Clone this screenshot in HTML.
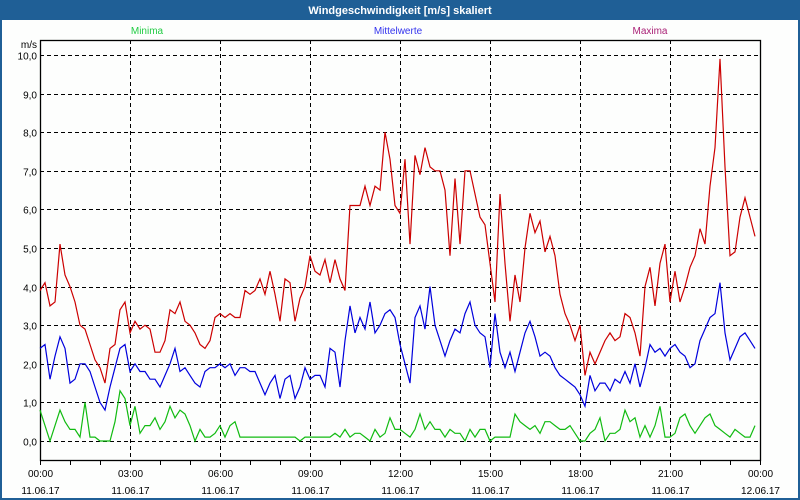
<!DOCTYPE html>
<html><head><meta charset="utf-8"><style>
html,body{margin:0;padding:0;background:#fff;}
svg{display:block;font-family:"Liberation Sans",sans-serif;}
</style></head><body>
<svg width="800" height="500" viewBox="0 0 800 500" xmlns="http://www.w3.org/2000/svg">
<rect x="0" y="0" width="800" height="500" fill="#1f5f96"/>
<rect x="2" y="20" width="796" height="478" fill="#fdfefd"/>
<text x="400" y="14" font-size="11" font-weight="bold" fill="#fff" text-anchor="middle">Windgeschwindigkeit [m/s] skaliert</text>
<text x="147" y="34" font-size="10" fill="#22cc44" text-anchor="middle">Minima</text>
<text x="398" y="34" font-size="10" fill="#3333ee" text-anchor="middle">Mittelwerte</text>
<text x="650" y="34" font-size="10" fill="#aa2277" text-anchor="middle">Maxima</text>
<text x="37" y="48" font-size="10" fill="#000" text-anchor="end">m/s</text>
<g id="grid" stroke="#000" stroke-width="1" stroke-dasharray="4,3" fill="none"></g>
<g id="labels" font-size="10" fill="#000"></g>
<rect x="40.5" y="40.5" width="720" height="420" fill="none" stroke="#000" stroke-width="1.3"/>
<g id="series" fill="none" stroke-width="1.2"></g>
</svg>
<script>
const ns="http://www.w3.org/2000/svg";
const g=document.getElementById('grid'),L=document.getElementById('labels'),S=document.getElementById('series');
function el(p,t,a,txt){const e=document.createElementNS(ns,t);for(const k in a)e.setAttribute(k,a[k]);if(txt)e.textContent=txt;p.appendChild(e);return e;}
const Y=v=>441-v*38.6;
for(let k=0;k<=10;k++){const y=Math.round(Y(k))+0.5;el(g,'line',{x1:40,x2:760,y1:y,y2:y});
el(L,'text',{x:37,y:y+4,'text-anchor':'end'},k+',0');}
const times=['00:00','03:00','06:00','09:00','12:00','15:00','18:00','21:00','00:00'];
for(let i=0;i<=8;i++){const x=40+90*i+0.5;if(i>0&&i<8)el(g,'line',{x1:x,x2:x,y1:40,y2:460});
el(L,'text',{x:x,y:477,'text-anchor':'middle'},times[i]);el(L,'text',{x:x,y:494,'text-anchor':'middle'},i==8?'12.06.17':'11.06.17');}
for(let h=0;h<=24;h++){const x=40+30*h+0.5;el(L,'line',{x1:x,x2:x,y1:460,y2:465,stroke:'#000'});}
const red=[3.9,4.1,3.5,3.6,5.1,4.3,4.0,3.6,3.0,2.9,2.5,2.1,1.9,1.5,2.4,2.5,3.4,3.6,2.8,3.1,2.9,3.0,2.9,2.3,2.3,2.6,3.4,3.3,3.6,3.1,3.0,2.8,2.5,2.4,2.6,3.2,3.3,3.2,3.3,3.2,3.2,3.9,3.8,3.9,4.2,3.8,4.4,3.8,3.1,4.2,4.1,3.1,3.7,4.0,4.8,4.4,4.3,4.7,4.1,4.7,4.2,3.9,6.1,6.1,6.1,6.6,6.1,6.6,6.5,8.0,7.3,6.1,5.9,7.3,5.1,7.4,6.9,7.6,7.1,7.0,7.0,6.5,4.8,6.8,5.1,7.0,7.0,6.4,5.8,5.6,4.6,3.6,6.4,4.6,3.1,4.3,3.6,5.0,5.9,5.4,5.7,4.9,5.3,4.8,3.8,3.3,3.0,2.6,3.0,1.7,2.3,2.0,2.3,2.6,2.8,2.6,2.7,3.3,3.2,2.8,2.2,4.0,4.5,3.5,4.6,5.1,3.6,4.4,3.6,4.0,4.5,4.8,5.5,5.1,6.6,7.6,9.9,7.1,4.8,4.9,5.8,6.3,5.8,5.3];
const blue=[2.4,2.5,1.6,2.2,2.7,2.4,1.5,1.6,2.0,2.0,1.8,1.4,1.0,0.8,1.4,1.9,2.4,2.5,1.8,2.0,1.8,1.8,1.6,1.6,1.4,1.7,2.0,2.4,1.8,1.9,1.7,1.5,1.4,1.8,1.9,1.9,2.0,1.9,2.0,1.7,1.9,1.9,1.8,1.8,1.5,1.2,1.5,1.7,1.1,1.6,1.7,1.1,1.4,1.9,1.6,1.7,1.7,1.4,2.4,2.3,1.4,2.6,3.5,2.8,3.2,2.9,3.6,2.8,3.0,3.3,3.4,3.2,2.5,2.0,1.5,3.2,3.5,2.9,4.0,3.0,2.6,2.2,2.6,2.9,2.8,3.3,3.6,3.0,2.8,2.7,1.9,3.3,2.3,1.9,2.3,1.8,2.3,2.8,3.1,2.7,2.2,2.3,2.2,1.9,1.7,1.6,1.5,1.4,1.2,0.9,1.7,1.3,1.5,1.5,1.3,1.6,1.5,1.8,1.5,2.0,1.4,1.9,2.5,2.3,2.4,2.2,2.4,2.5,2.3,2.2,1.9,2.0,2.6,2.9,3.2,3.3,4.1,2.8,2.1,2.4,2.7,2.8,2.6,2.4];
const green=[0.8,0.4,0.0,0.4,0.8,0.5,0.3,0.3,0.1,1.0,0.1,0.1,0.0,0.0,0.0,0.5,1.3,1.1,0.4,0.9,0.2,0.4,0.4,0.6,0.3,0.5,0.9,0.6,0.8,0.7,0.4,0.0,0.3,0.1,0.1,0.2,0.4,0.1,0.4,0.5,0.1,0.1,0.1,0.1,0.1,0.1,0.1,0.1,0.1,0.1,0.1,0.1,0.0,0.1,0.1,0.1,0.1,0.1,0.1,0.2,0.1,0.3,0.1,0.2,0.2,0.1,0.0,0.3,0.1,0.2,0.6,0.3,0.3,0.2,0.1,0.3,0.7,0.3,0.5,0.3,0.3,0.1,0.3,0.2,0.2,0.0,0.3,0.1,0.3,0.3,0.0,0.1,0.1,0.1,0.1,0.7,0.5,0.4,0.3,0.4,0.2,0.5,0.5,0.4,0.3,0.3,0.4,0.2,0.0,0.0,0.2,0.3,0.6,0.0,0.2,0.2,0.3,0.8,0.5,0.6,0.1,0.4,0.1,0.4,0.9,0.1,0.1,0.2,0.6,0.7,0.4,0.2,0.4,0.6,0.7,0.4,0.3,0.2,0.1,0.3,0.2,0.1,0.1,0.4];
function line(d,c){el(S,'polyline',{stroke:c,points:d.map((v,i)=>(40+i*5)+','+Y(v).toFixed(1)).join(' ')});}
line(green,'#11bb11');line(blue,'#0000dd');line(red,'#cc0000');
</script>
</body></html>
